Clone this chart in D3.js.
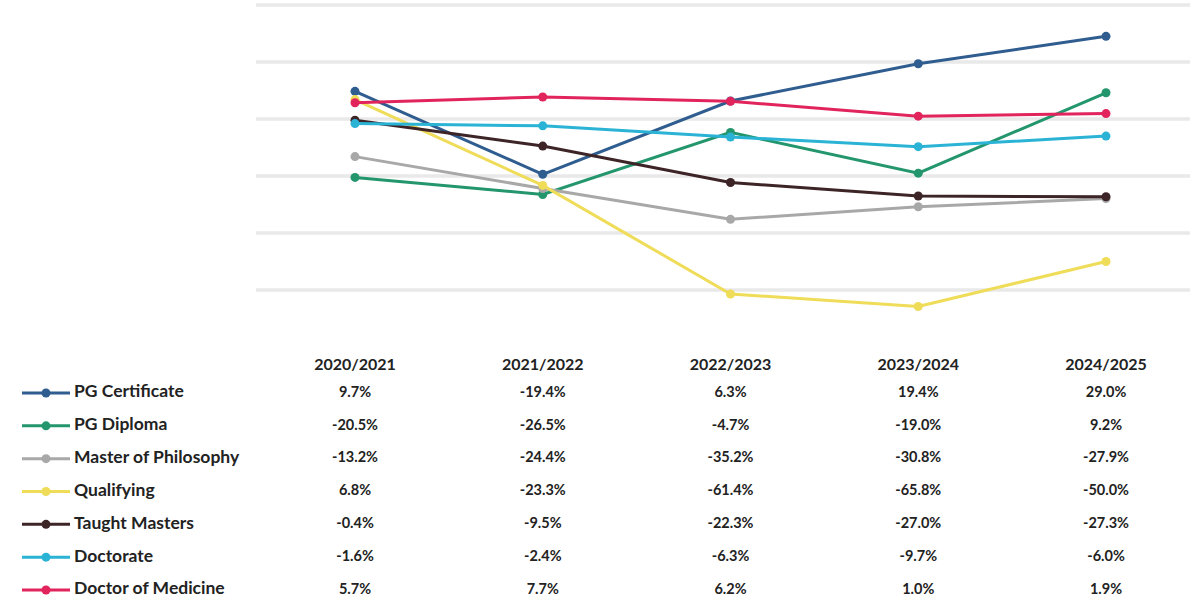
<!DOCTYPE html>
<html>
<head>
<meta charset="utf-8">
<script src="https://cdn.jsdelivr.net/npm/d3@7"></script>
<style>
  body { margin: 0; background: #fff; }
  svg { font-family: Lato, "Open Sans", sans-serif; }
</style>
</head>
<body>
<div id="chart"></div>
<script>
// data
var years = ["2020/2021", "2021/2022", "2022/2023", "2023/2024", "2024/2025"];
var seriesNames = ["PG Certificate", "PG Diploma", "Master of Philosophy", "Qualifying",
    "Taught Masters", "Doctorate", "Doctor of Medicine"];
var pgCertificate = [9.7, -19.4, 6.3, 19.4, 29.0];
var pgDiploma = [-20.5, -26.5, -4.7, -19.0, 9.2];
var masterPhil = [-13.2, -24.4, -35.2, -30.8, -27.9];
var qualifying = [6.8, -23.3, -61.4, -65.8, -50.0];
var taughtMasters = [-0.4, -9.5, -22.3, -27.0, -27.3];
var doctorate = [-1.6, -2.4, -6.3, -9.7, -6.0];
var doctorMedicine = [5.7, 7.7, 6.2, 1.0, 1.9];
var yTicks = [40, 20, 0, -20, -40, -60];

var colors = ["#2f5d8f", "#23966d", "#a8a8a8", "#efdc58", "#3d2427", "#2ab3d5", "#e2245d"];
var allValues = [pgCertificate, pgDiploma, masterPhil, qualifying, taughtMasters, doctorate, doctorMedicine];

var series = seriesNames.map(function (n, i) {
    return { name: n, values: allValues[i], color: colors[i] };
});

var width = 1190, height = 605;

var svg = d3.select("#chart")
    .append("svg")
    .attr("width", width)
    .attr("height", height);

var x = d3.scalePoint()
    .domain(years)
    .range([355, 1106]);

var y = d3.scaleLinear()
    .domain([-80, 40])
    .range([347, 5]);

// gridlines
svg.append("g")
    .selectAll("line")
    .data(yTicks)
    .enter()
    .append("line")
    .attr("x1", 256)
    .attr("x2", width)
    .attr("y1", (d) => y(d))
    .attr("y2", (d) => y(d))
    .style("stroke", "#e9e9e9")
    .style("stroke-width", 3.5);

var line = d3.line()
    .x((d, i) => x(years[i]))
    .y((d) => y(d));

var g = svg.selectAll(".series")
    .data(series)
    .enter()
    .append("g")
    .attr("class", "series");

g.append("path")
    .attr("d", (d) => line(d.values))
    .style("fill", "none")
    .style("stroke", (d) => d.color)
    .style("stroke-width", 3);

g.selectAll("circle")
    .data((d) => d.values.map((v, i) => ({ v: v, i: i, color: d.color })))
    .enter()
    .append("circle")
    .attr("cx", (d) => x(years[d.i]))
    .attr("cy", (d) => y(d.v))
    .attr("r", 4.5)
    .style("fill", (d) => d.color);

// data table
var rowY = d3.scalePoint()
    .domain(seriesNames)
    .range([393, 590]);
var fmt = (v) => v.toFixed(1) + "%";

svg.append("g")
    .selectAll("text")
    .data(years)
    .enter()
    .append("text")
    .attr("x", (d) => x(d))
    .attr("y", 366)
    .attr("text-anchor", "middle")
    .attr("dominant-baseline", "middle")
    .style("font-size", "16px")
    .style("font-weight", "bold")
    .style("fill", "#222")
    .text((d) => d);

var rows = svg.selectAll(".row")
    .data(series)
    .enter()
    .append("g")
    .attr("class", "row");

rows.append("line")
    .attr("x1", 22)
    .attr("x2", 70)
    .attr("y1", (d) => rowY(d.name))
    .attr("y2", (d) => rowY(d.name))
    .style("stroke", (d) => d.color)
    .style("stroke-width", 3);

rows.append("circle")
    .attr("cx", 46)
    .attr("cy", (d) => rowY(d.name))
    .attr("r", 4.5)
    .style("fill", (d) => d.color);

rows.append("text")
    .attr("x", 74)
    .attr("y", (d) => rowY(d.name))
    .attr("dominant-baseline", "middle")
    .style("font-size", "17.5px")
    .style("font-weight", "bold")
    .style("fill", "#222")
    .text((d) => d.name);

rows.selectAll(".val")
    .data((d) => d.values.map((v, i) => ({ v: v, i: i, name: d.name })))
    .enter()
    .append("text")
    .attr("class", "val")
    .attr("x", (d) => x(years[d.i]))
    .attr("y", (d) => rowY(d.name))
    .attr("text-anchor", "middle")
    .attr("dominant-baseline", "middle")
    .style("font-size", "14.5px")
    .style("font-weight", "bold")
    .style("fill", "#222")
    .text((d) => fmt(d.v));
</script>
</body>
</html>
